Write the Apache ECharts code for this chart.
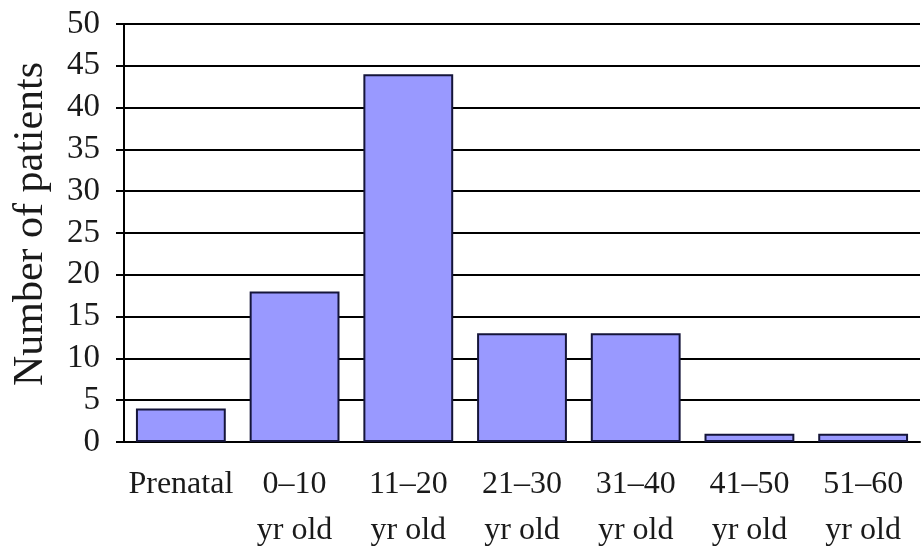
<!DOCTYPE html>
<html>
<head>
<meta charset="utf-8">
<script src="https://cdn.jsdelivr.net/npm/echarts@6/dist/echarts.min.js"></script>
<style>html,body{margin:0;padding:0;background:#fff}#c{width:924px;height:554px}</style>
</head>
<body>
<div id="c"></div>
<script>
const categories = ['Prenatal', '0\u201310\nyr old', '11\u201320\nyr old', '21\u201330\nyr old', '31\u201340\nyr old', '41\u201350\nyr old', '51\u201360\nyr old'];
const patients = [4, 18, 44, 13, 13, 1, 1];
const yTicks = { min: 0, max: 50, interval: 5 };

const chart = echarts.init(document.getElementById('c'));
const serif = 'Liberation Serif';
chart.setOption({
  animation: false,
  backgroundColor: '#fff',
  grid: { left: 124, right: 4, top: 24, bottom: 112, containLabel: false },
  xAxis: {
    type: 'category',
    data: categories,
    axisLine: { show: true, lineStyle: { color: '#000', width: 2 } },
    axisTick: { show: false },
    axisLabel: { color: '#1a1a1a', fontFamily: serif, fontSize: 32, lineHeight: 46, margin: 20, interval: 0 }
  },
  yAxis: {
    type: 'value',
    min: yTicks.min, max: yTicks.max, interval: yTicks.interval,
    name: 'Number of patients',
    nameLocation: 'middle',
    nameRotate: 90,
    nameGap: 72,
    nameTextStyle: { color: '#1a1a1a', fontFamily: serif, fontSize: 42, padding: [0, 0, 0, 18] },
    axisLine: { show: true, lineStyle: { color: '#000', width: 2 } },
    axisTick: { show: true, inside: false, length: 8, lineStyle: { color: '#000', width: 2 } },
    axisLabel: { color: '#1a1a1a', fontFamily: serif, fontSize: 33, margin: 24 },
    splitLine: { show: true, lineStyle: { color: '#000', width: 2 } }
  },
  series: [{
    type: 'bar',
    data: patients,
    barCategoryGap: '21%',
    itemStyle: { color: '#9999FF', borderColor: '#15153a', borderWidth: 2 }
  }]
});
</script>
</body>
</html>
